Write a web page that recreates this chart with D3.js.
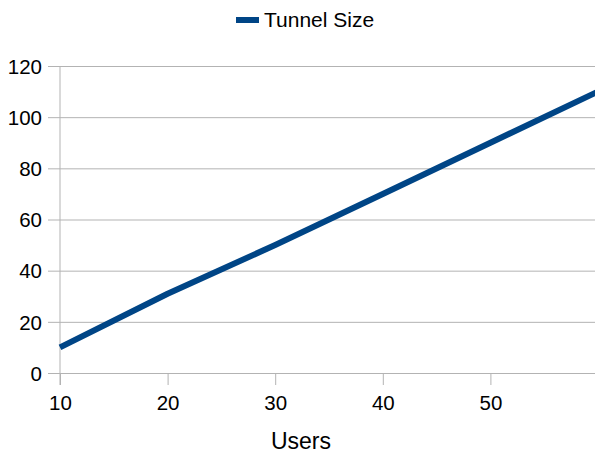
<!DOCTYPE html>
<html>
<head>
<meta charset="utf-8">
<script src="https://cdn.jsdelivr.net/npm/d3@7"></script>
<style>
  html, body { margin: 0; padding: 0; background: #fff; }
  svg { display: block; font-family: "Liberation Sans", Arial, sans-serif; }
</style>
</head>
<body>
<svg id="chart" width="595" height="453"></svg>
<script>
// Tunnel size against number of users
const users = [10, 20, 30, 40, 50, 60];
const tunnelSize = [10, 31, 50, 70, 90, 110];
const xTicks = [10, 20, 30, 40, 50];
const yTicks = [0, 20, 40, 60, 80, 100, 120];
const seriesName = "Tunnel Size";
const xTitle = "Users";

const svg = d3.select("#chart");
const lineColor = "#004586";
const gridColor = "#b3b3b3";

const x = d3.scaleLinear().domain([10, 60]).range([60, 598]);
const y = d3.scaleLinear().domain([0, 120]).range([373, 66]);

// horizontal gridlines with short ticks to the left of the axis
const yAxis = d3.axisLeft(y).tickValues(yTicks).tickSize(0);
const gy = svg.append("g").attr("transform", "translate(60,0)").call(yAxis);
gy.select(".domain").remove();
gy.selectAll(".tick line").remove();
gy.selectAll(".tick").append("line")
  .attr("x1", -12).attr("x2", 540)
  .attr("stroke", gridColor).attr("stroke-width", 1);
gy.selectAll(".tick text")
  .attr("x", -18)
  .attr("dy", "0.35em")
  .attr("fill", "#000")
  .style("font-size", "20.5px");

// x axis
const xAxis = d3.axisBottom(x).tickValues(xTicks).tickSize(12).tickPadding(10);
const gx = svg.append("g").attr("transform", "translate(0,373)").call(xAxis);
gx.select(".domain").remove();
gx.selectAll(".tick line").attr("stroke", gridColor);
gx.selectAll(".tick text").attr("fill", "#000").style("font-size", "20.5px");

// vertical axis line
svg.append("line")
  .attr("x1", 60).attr("x2", 60)
  .attr("y1", y(120)).attr("y2", 385)
  .attr("stroke", gridColor).attr("stroke-width", 1);

// data line
const line = d3.line().x((d, i) => x(users[i])).y(d => y(d));
svg.append("path")
  .datum(tunnelSize)
  .attr("d", line)
  .attr("fill", "none")
  .attr("stroke", lineColor)
  .attr("stroke-width", 6)
  .attr("stroke-linejoin", "round");

// axis title
svg.append("text")
  .attr("x", 301).attr("y", 449)
  .attr("text-anchor", "middle")
  .style("font-size", "23px")
  .attr("fill", "#000")
  .text(xTitle);

// legend
const lg = svg.append("g").attr("transform", "translate(236,20)");
lg.append("line")
  .attr("x1", 0).attr("x2", 23)
  .attr("y1", 0).attr("y2", 0)
  .attr("stroke", lineColor).attr("stroke-width", 6);
lg.append("text")
  .attr("x", 28).attr("y", 0)
  .attr("dy", "0.35em")
  .style("font-size", "21px")
  .attr("fill", "#000")
  .text(seriesName);
</script>
</body>
</html>
